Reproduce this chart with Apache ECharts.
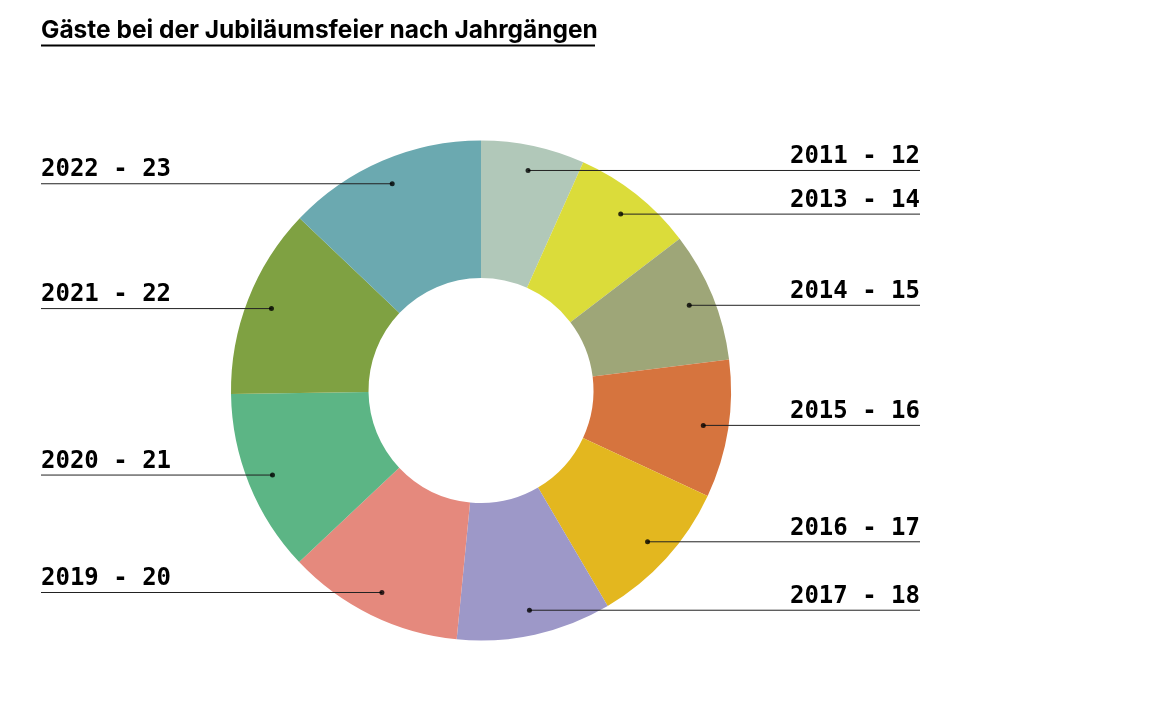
<!DOCTYPE html>
<html>
<head>
<meta charset="utf-8">
<style>
  html, body { margin: 0; padding: 0; background: #ffffff; }
  #chart { width: 1173px; height: 702px; }
</style>
<script src="https://cdn.jsdelivr.net/npm/echarts@6/dist/echarts.min.js"></script>
</head>
<body>
<div id="chart"></div>
<script>
// ---- data ----
const categories = ['2011 - 12', '2013 - 14', '2014 - 15', '2015 - 16', '2016 - 17',
                    '2017 - 18', '2019 - 20', '2020 - 21', '2021 - 22', '2022 - 23'];
const guests = [67, 79, 84, 89, 96, 100, 114, 118, 123, 129];
const colors = ['#b1c8b9', '#dbdc3a', '#9ea678', '#d6743e', '#e3b71f',
                '#9d98c8', '#e5897d', '#5cb585', '#7fa142', '#6ba9b0'];
const titleText = 'Gäste bei der Jubiläumsfeier nach Jahrgängen';

// ---- layout ----
const CENTER = [481, 390.5];
const R_IN = 112.5, R_OUT = 250, R_DOT = 225;
const LEFT_X = 41, RIGHT_X = 920;

const total = guests.reduce((a, b) => a + b, 0);
const mids = [];
let acc = 0;
guests.forEach(v => { mids.push(acc + v / 2); acc += v; });

const pieData = categories.map((c, i) => ({ name: c, value: guests[i] }));

const chart = echarts.init(document.getElementById('chart'));

chart.setOption({
  animation: false,
  backgroundColor: '#ffffff',
  title: {
    text: titleText,
    left: 41,
    top: 17,
    padding: 0,
    textStyle: {
      fontFamily: 'Inter',
      fontWeight: 'bold',
      fontSize: 24.5,
      lineHeight: 28,
      color: '#000000'
    }
  },
  graphic: [{
    type: 'line',
    shape: { x1: 41, y1: 45.5, x2: 595, y2: 45.5 },
    style: { stroke: '#000000', lineWidth: 2 },
    silent: true
  }],
  polar: { center: CENTER, radius: R_OUT },
  angleAxis: { type: 'value', min: 0, max: total, startAngle: 90, clockwise: true, show: false },
  radiusAxis: { type: 'value', min: 0, max: R_OUT, show: false },
  series: [
    {
      // coloured ring
      type: 'pie',
      center: CENTER,
      radius: [R_IN, R_OUT],
      startAngle: 90,
      clockwise: true,
      silent: true,
      z: 2,
      label: { show: false },
      labelLine: { show: false },
      data: pieData.map((d, i) => ({ name: d.name, value: d.value, itemStyle: { color: colors[i] } }))
    },
    {
      // transparent copy carrying the labels and leader lines above the ring
      type: 'pie',
      center: CENTER,
      radius: [R_IN, R_OUT],
      startAngle: 90,
      clockwise: true,
      avoidLabelOverlap: false,
      silent: true,
      z: 4,
      itemStyle: { color: 'rgba(0,0,0,0)' },
      data: pieData,
      label: {
        show: true,
        position: 'outside',
        formatter: '{b}',
        fontFamily: 'DejaVu Sans Mono',
        fontWeight: 'bold',
        fontSize: 24,
        lineHeight: 24,
        color: '#000000'
      },
      labelLine: {
        show: true,
        showAbove: true,
        length: 10,
        length2: 10,
        lineStyle: { color: '#222222', width: 1 }
      },
      labelLayout: function (params) {
        const p = params.labelLinePoints;
        if (!p) return {};
        const p0 = p[0];
        const dx = p0[0] - CENTER[0], dy = p0[1] - CENTER[1];
        const r = Math.sqrt(dx * dx + dy * dy) || 1;
        const sx = CENTER[0] + dx * R_DOT / r;
        const sy = CENTER[1] + dy * R_DOT / r;
        const isLeft = dx < 0;
        const ex = isLeft ? LEFT_X : RIGHT_X;
        return {
          x: ex,
          y: sy - 13.5,
          align: isLeft ? 'left' : 'right',
          verticalAlign: 'middle',
          labelLinePoints: [[sx, sy], [sx, sy], [ex, sy]]
        };
      }
    },
    {
      type: 'scatter',
      coordinateSystem: 'polar',
      silent: true,
      z: 6,
      symbol: 'circle',
      symbolSize: 5,
      itemStyle: { color: '#000000' },
      data: mids.map(m => [R_DOT, m])
    }
  ]
});
</script>
</body>
</html>
